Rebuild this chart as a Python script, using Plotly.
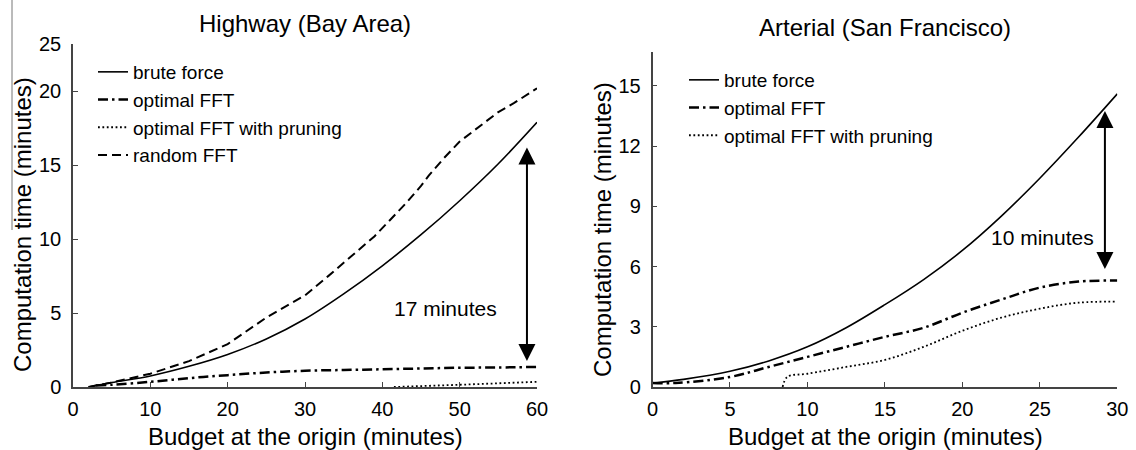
import plotly.graph_objects as go

# ---------------- data: Highway (Bay Area) ----------------
hw_bf_x = [2, 5, 10, 15, 20, 25, 30, 35, 40, 45, 50, 55, 60]
hw_bf_y = [0.0, 0.3, 0.75, 1.4, 2.2, 3.25, 4.6, 6.3, 8.2, 10.3, 12.6, 15.1, 17.9]

hw_opt_x = [3, 5, 10, 15, 20, 25, 30, 35, 40, 45, 50, 55, 60]
hw_opt_y = [0.1, 0.15, 0.35, 0.6, 0.8, 0.98, 1.1, 1.15, 1.2, 1.25, 1.3, 1.32, 1.36]

hw_prun_x = [41.5, 45, 50, 55, 60]
hw_prun_y = [0.0, 0.08, 0.15, 0.25, 0.35]

hw_rnd_x = [2, 5, 10, 15, 20, 25, 27, 30, 33, 35, 37, 39, 41, 43, 45, 46, 48, 50, 52, 54, 55, 57, 60]
hw_rnd_y = [0.0, 0.3, 0.9, 1.75, 2.9, 4.7, 5.3, 6.2, 7.5, 8.4, 9.3, 10.2, 11.3, 12.4, 13.6, 14.3, 15.5, 16.6, 17.4, 18.2, 18.6, 19.2, 20.2]

# ---------------- data: Arterial (San Francisco) ----------------
ar_bf_x = [0, 2, 5, 7.5, 10, 12.5, 15, 17.5, 20, 22.5, 25, 27.5, 30]
ar_bf_y = [0.2, 0.38, 0.78, 1.3, 2.0, 2.95, 4.1, 5.35, 6.8, 8.5, 10.4, 12.45, 14.6]

ar_opt_x = [0, 1.5, 5, 7.5, 10, 12.5, 15, 17.5, 20, 22.5, 25, 27.5, 30]
ar_opt_y = [0.2, 0.2, 0.5, 1.0, 1.5, 2.0, 2.5, 2.95, 3.7, 4.35, 4.95, 5.25, 5.3]

ar_prun_x = [8.4, 8.7, 10, 12.5, 15, 17.5, 20, 22.5, 25, 27.5, 30]
ar_prun_y = [0.0, 0.5, 0.66, 1.0, 1.35, 2.0, 2.8, 3.45, 3.9, 4.2, 4.25]

hw_xticks = [0, 10, 20, 30, 40, 50, 60]
hw_yticks = [0, 5, 10, 15, 20, 23.2]
hw_yticktext = ["0", "5", "10", "15", "20", "25"]
ar_xticks = [0, 5, 10, 15, 20, 25, 30]
ar_yticks = [0, 3, 6, 9, 12, 15]

names = ["brute force", "optimal FFT", "optimal FFT with pruning", "random FFT"]

W, H = 1136, 450
def px(x):
    return x / W
def py(y):
    return 1 - y / H

fig = go.Figure()

solid = dict(color="black", width=1.6)
dashdot = dict(color="black", width=2.5, dash="10px,4px,2.5px,4px")
dotted = dict(color="black", width=1.8, dash="1.8px,2.6px")
dashed = dict(color="black", width=2, dash="9px,5px")

fig.add_trace(go.Scatter(x=hw_bf_x, y=hw_bf_y, mode="lines", name=names[0], line=dict(**solid, shape="spline"), legend="legend"))
fig.add_trace(go.Scatter(x=hw_opt_x, y=hw_opt_y, mode="lines", name=names[1], line=dict(**dashdot, shape="spline"), legend="legend"))
fig.add_trace(go.Scatter(x=hw_prun_x, y=hw_prun_y, mode="lines", name=names[2], line=dotted, legend="legend"))
fig.add_trace(go.Scatter(x=hw_rnd_x, y=hw_rnd_y, mode="lines", name=names[3], line=dashed, legend="legend"))

fig.add_trace(go.Scatter(x=ar_bf_x, y=ar_bf_y, mode="lines", name=names[0], line=dict(**solid, shape="spline"), xaxis="x2", yaxis="y2", legend="legend2"))
fig.add_trace(go.Scatter(x=ar_opt_x, y=ar_opt_y, mode="lines", name=names[1], line=dict(**dashdot, shape="spline"), xaxis="x2", yaxis="y2", legend="legend2"))
fig.add_trace(go.Scatter(x=ar_prun_x, y=ar_prun_y, mode="lines", name=names[2], line=dict(**dotted, shape="spline"), xaxis="x2", yaxis="y2", legend="legend2"))

axis_common = dict(
    showgrid=False, zeroline=False, showline=True, linecolor="#444", linewidth=1.5,
    ticks="inside", ticklen=5, tickwidth=1.2, tickcolor="#444",
    tickfont=dict(family="Liberation Sans, Arial", size=20, color="black"),
    fixedrange=True, automargin=False,
)

fig.update_layout(
    template="none",
    width=W, height=H, margin=dict(l=0, r=0, t=0, b=0, autoexpand=False),
    paper_bgcolor="white", plot_bgcolor="white",
    font=dict(family="Liberation Sans, Arial", color="black"),
    xaxis=dict(**axis_common, domain=[px(73), px(537)], range=[0, 60], tickvals=hw_xticks, anchor="y", ticklabelstandoff=3),
    yaxis=dict(**axis_common, domain=[py(387), py(44)], range=[0, 23.2], tickvals=hw_yticks, ticktext=hw_yticktext, anchor="x", ticklabelstandoff=6),
    xaxis2=dict(**axis_common, domain=[px(652.5), px(1117.3)], range=[0, 30], tickvals=ar_xticks, anchor="y2", ticklabelstandoff=3),
    yaxis2=dict(**axis_common, domain=[py(387), py(51.7)], range=[0, 16.7], tickvals=ar_yticks, anchor="x2", ticklabelstandoff=6),
    legend=dict(x=px(93), y=py(53), xanchor="left", yanchor="top", bgcolor="rgba(0,0,0,0)", borderwidth=0,
                font=dict(size=19, family="Liberation Sans, Arial", color="black"), itemwidth=30, tracegroupgap=0),
    legend2=dict(x=px(684), y=py(61), xanchor="left", yanchor="top", bgcolor="rgba(0,0,0,0)", borderwidth=0,
                 font=dict(size=19, family="Liberation Sans, Arial", color="black"), itemwidth=30, tracegroupgap=0),
    showlegend=True,
)

ann_font = dict(family="Liberation Sans, Arial", color="black")
annotations = [
    dict(text="Highway (Bay Area)", x=px(305), y=py(23), xref="paper", yref="paper", showarrow=False,
         xanchor="center", yanchor="middle", font=dict(**ann_font, size=24)),
    dict(text="Arterial (San Francisco)", x=px(885), y=py(27), xref="paper", yref="paper", showarrow=False,
         xanchor="center", yanchor="middle", font=dict(**ann_font, size=24)),
    dict(text="Budget at the origin (minutes)", x=px(305), y=py(436), xref="paper", yref="paper", showarrow=False,
         xanchor="center", yanchor="middle", font=dict(**ann_font, size=24)),
    dict(text="Budget at the origin (minutes)", x=px(885), y=py(436), xref="paper", yref="paper", showarrow=False,
         xanchor="center", yanchor="middle", font=dict(**ann_font, size=24)),
    dict(text="Computation time (minutes)", x=px(22), y=py(225), xref="paper", yref="paper", showarrow=False,
         xanchor="center", yanchor="middle", textangle=-90, font=dict(**ann_font, size=24)),
    dict(text="Computation time (minutes)", x=px(603), y=py(230), xref="paper", yref="paper", showarrow=False,
         xanchor="center", yanchor="middle", textangle=-90, font=dict(**ann_font, size=24)),
    dict(text="17 minutes", x=48.2, y=5.3, xref="x", yref="y", showarrow=False,
         xanchor="center", yanchor="middle", font=dict(**ann_font, size=21)),
    dict(text="10 minutes", x=25.2, y=7.45, xref="x2", yref="y2", showarrow=False,
         xanchor="center", yanchor="middle", font=dict(**ann_font, size=21)),
    # double-headed arrows
    dict(x=58.7, y=16.2, ax=58.7, ay=1.65, xref="x", yref="y", axref="x", ayref="y", text="",
         showarrow=True, arrowhead=2, startarrowhead=2, arrowside="end+start", arrowsize=1.7, startarrowsize=1.7,
         arrowwidth=2, arrowcolor="black"),
    dict(x=29.2, y=13.75, ax=29.2, ay=5.8, xref="x2", yref="y2", axref="x2", ayref="y2", text="",
         showarrow=True, arrowhead=2, startarrowhead=2, arrowside="end+start", arrowsize=1.7, startarrowsize=1.7,
         arrowwidth=2, arrowcolor="black"),
]
fig.update_layout(annotations=annotations)

# faint scan edge line at the far left
fig.add_shape(type="line", xref="paper", yref="paper", x0=px(12), x1=px(12), y0=py(0), y1=py(230),
              line=dict(color="#777", width=1))

fig.write_html("out.html")
